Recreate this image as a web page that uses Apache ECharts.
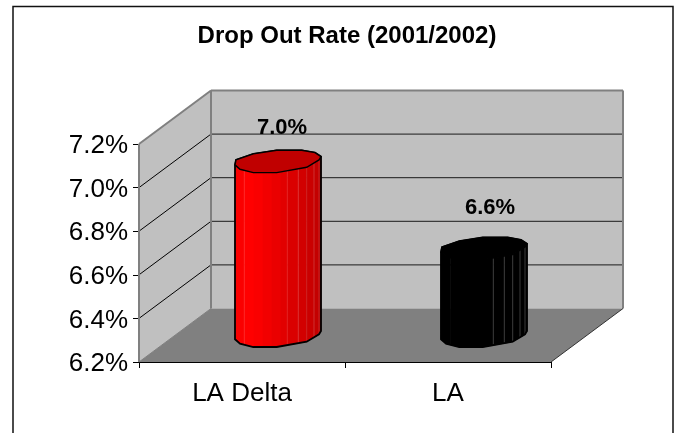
<!DOCTYPE html>
<html><head><meta charset="utf-8">
<style>html,body{margin:0;padding:0;background:#fff}#c{width:678px;height:433px}</style>
<script src="https://cdn.jsdelivr.net/npm/echarts@6/dist/echarts.min.js"></script>
</head><body><div id="c"></div>
<script>
const categories = ['LA Delta', 'LA'];
const values = [7.0, 6.6];
const yTicks = [6.2, 6.4, 6.6, 6.8, 7.0, 7.2];
const titleText = 'Drop Out Rate (2001/2002)';
const labelNudge = [[4, -34], [6, -41]];

const FONT = '"Liberation Sans", Arial, sans-serif';
const DEPTH = [72, -53.5];
const MID = [36, -26];
const upper = [[-43,3.3],[-42,-1.7],[-24.7,-7.7],[-1.3,-11.3],[23.7,-11.3],[37,-9],[43,-5]];
const lower = [[-43,3.3],[-38,7.7],[-24.7,11],[-1.3,11],[28.7,5.7],[41,-1.7],[43,-5]];
const edges = [-43,-33.7,-24,-15,-6,3,9.3,20.3,28.7,36,41,43];
const fills = [
  ['#fa0000','#ff0000','#fa0000','#f20000','#ea0000','#e20000','#da0000','#d20000','#ca0000','#c40000','#bc0000'],
  ['#000','#000','#000','#000','#000','#000','#000','#000','#000','#000','#000']
];
const seams = [
  ['#ff3030',null,null,null,null,'#e82a2a','#e03c3c','#d02a2a','#d03c3c','#c83030'],
  [null,null,null,null,null,'#4a4a4a','#4a4a4a','#4a4a4a','#4a4a4a','#4a4a4a']
];
const topFill = ['#c00000', '#000'];

function lowY(x){
  for (let i = 0; i < lower.length - 1; i++) {
    const a = lower[i], b = lower[i+1];
    if (x >= a[0] && x <= b[0]) return a[1] + (b[1]-a[1])*(x-a[0])/(b[0]-a[0]);
  }
  return lower[lower.length-1][1];
}
function sampleXs(x0, x1){
  return [x0].concat(lower.map(p=>p[0]).filter(x=>x>x0&&x<x1), [x1]);
}
function poly(points, style, z2){
  return {type:'polygon', shape:{points}, style, z2: z2||0, silent:true};
}
function seg(a, b, stroke, w, z2){
  return {type:'line', shape:{x1:a[0],y1:a[1],x2:b[0],y2:b[1]}, style:{stroke, lineWidth:w||1, fill:null}, z2: z2||0, silent:true};
}

function renderBox(params, api){
  const halfBand = api.size([1,0])[0]/2;
  const xL = api.coord([0, yTicks[0]])[0] - halfBand;
  const xR = api.coord([categories.length-1, yTicks[0]])[0] + halfBand;
  const y0 = api.coord([0, yTicks[0]])[1];
  const y1 = api.coord([0, yTicks[yTicks.length-1]])[1];
  const d = DEPTH, wall = '#c0c0c0', edge = '#808080';
  const ch = [];
  ch.push(poly([[xL+d[0],y1+d[1]],[xR+d[0],y1+d[1]],[xR+d[0],y0+d[1]],[xL+d[0],y0+d[1]]],{fill:wall}));
  ch.push(poly([[xL,y1],[xL+d[0],y1+d[1]],[xL+d[0],y0+d[1]],[xL,y0]],{fill:wall}));
  ch.push(poly([[xL,y0],[xR,y0],[xR+d[0],y0+d[1]],[xL+d[0],y0+d[1]]],{fill:edge}));
  yTicks.slice(1,-1).forEach(t=>{
    const y = api.coord([0,t])[1];
    ch.push(seg([xL,y],[xL+d[0],y+d[1]],'#000',1,2));
    ch.push(seg([xL+d[0],y+d[1]],[xR+d[0],y+d[1]],'#1a1a1a',1,2));
  });
  ch.push(seg([xL,y1],[xL,y0],edge,2,3));
  ch.push(seg([xL,y1],[xL+d[0],y1+d[1]],edge,2,3));
  ch.push(seg([xL+d[0],y1+d[1]],[xR+d[0],y1+d[1]],edge,2,3));
  ch.push(seg([xL+d[0],y1+d[1]],[xL+d[0],y0+d[1]],edge,2,3));
  ch.push(seg([xR+d[0],y1+d[1]],[xR+d[0],y0+d[1]],edge,2,3));
  ch.push(seg([xL,y0],[xL+d[0],y0+d[1]],edge,1,3));
  ch.push(seg([xR,y0],[xR+d[0],y0+d[1]],'#333',1,3));
  return {type:'group', children:ch};
}

function renderBar(params, api){
  const i = params.dataIndex;
  const top = api.coord([api.value(0), api.value(1)]);
  const base = api.coord([api.value(0), yTicks[0]]);
  const cx = top[0]+MID[0], ty = top[1]+MID[1], by = base[1]+MID[1];
  const ch = [];
  for (let s = 0; s < edges.length-1; s++) {
    const xs = sampleXs(edges[s], edges[s+1]);
    const pts = xs.map(x=>[cx+x, ty+lowY(x)]).concat(xs.slice().reverse().map(x=>[cx+x, by+lowY(x)]));
    ch.push(poly(pts,{fill:fills[i][s], stroke:fills[i][s], lineWidth:0.6},1));
  }
  for (let s = 1; s < edges.length-1; s++) {
    const x = edges[s], c = seams[i][s-1];
    if (c) ch.push(seg([cx+x,ty+lowY(x)],[cx+x,by+lowY(x)],c,0.8,2));
  }
  const sil = upper.map(p=>[cx+p[0],ty+p[1]]).concat(lower.slice().reverse().map(p=>[cx+p[0],by+p[1]]));
  ch.push(poly(sil,{fill:null,stroke:'#000',lineWidth:1.8},3));
  const face = upper.map(p=>[cx+p[0],ty+p[1]]).concat(lower.slice(1,-1).reverse().map(p=>[cx+p[0],ty+p[1]]));
  ch.push(poly(face,{fill:topFill[i],stroke:'#000',lineWidth:1.4},4));
  ch.push({type:'text', z2:5, silent:true, style:{
    x:cx+labelNudge[i][0], y:ty+labelNudge[i][1],
    text: api.value(1).toFixed(1)+'%',
    font:'bold 22px '+FONT, fill:'#000', align:'center', verticalAlign:'middle'
  }});
  return {type:'group', children:ch};
}

const chart = echarts.init(document.getElementById('c'), null, {renderer:'canvas'});
chart.setOption({
  animation:false,
  backgroundColor:'#fff',
  graphic:[{type:'rect', shape:{x:13,y:6.5,width:660,height:440}, style:{fill:null,stroke:'#111',lineWidth:1.5}, silent:true, z:-1}],
  title:{text:titleText, left:342, top:19, textAlign:'center',
    textStyle:{fontFamily:FONT,fontSize:24,fontWeight:'bold',color:'#000'}},
  grid:{left:139, right:127, top:144, bottom:71, containLabel:false},
  xAxis:{type:'category', data:categories,
    axisLine:{show:true,lineStyle:{color:'#000',width:1}},
    axisTick:{show:true,length:6,lineStyle:{color:'#000'}},
    axisLabel:{fontFamily:FONT,fontSize:26,color:'#000',margin:19},
    splitLine:{show:false}},
  yAxis:{type:'value', min:yTicks[0], max:yTicks[yTicks.length-1], interval:0.2,
    axisLine:{show:false},
    axisTick:{show:true,length:6,lineStyle:{color:'#000'}},
    axisLabel:{fontFamily:FONT,fontSize:26,color:'#000',margin:11,
      formatter:v=>'{a|'+v.toFixed(1)+'%}',
      rich:{a:{fontFamily:FONT,fontSize:26,color:'#000',padding:[4,0,0,0]}}},
    splitLine:{show:false}},
  series:[
    {type:'custom', coordinateSystem:'cartesian2d', renderItem:renderBox, data:[[0, yTicks[0]]], z:1, silent:true, clip:false},
    {type:'custom', coordinateSystem:'cartesian2d', renderItem:renderBar,
     data:values.map((v,i)=>[i,v]), encode:{x:0,y:1}, z:2, silent:true, clip:false}
  ]
});
</script></body></html>
